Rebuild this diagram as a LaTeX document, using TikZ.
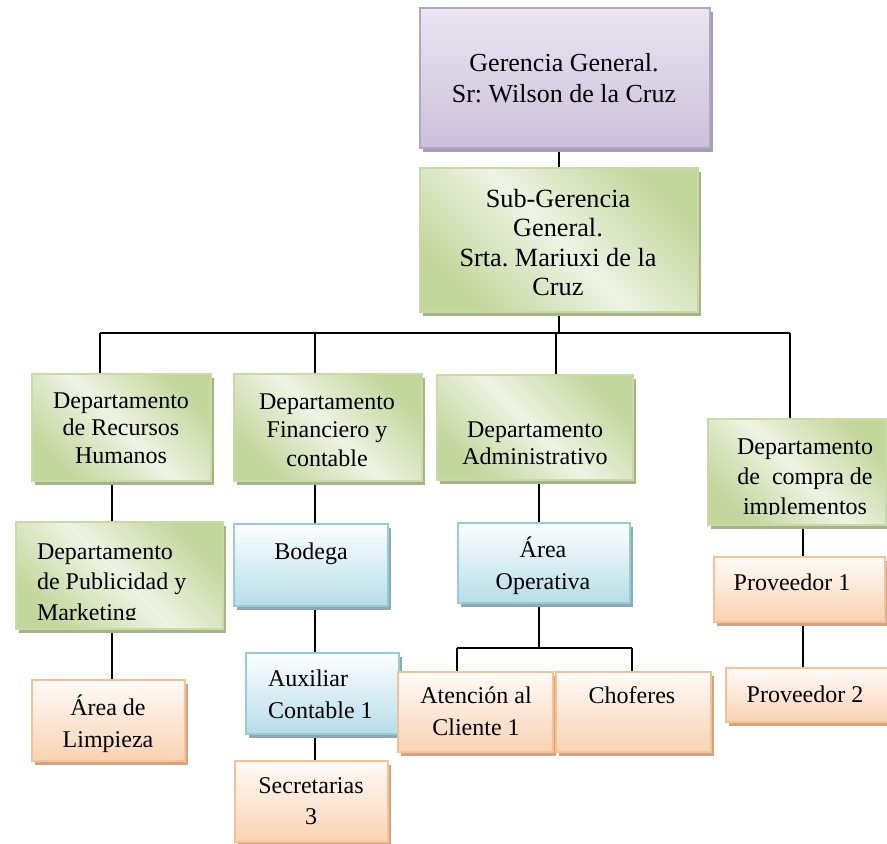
\documentclass[tikz,border=0pt]{standalone}
\usepackage{fontspec}
\setmainfont{Liberation Serif}
\usetikzlibrary{calc,backgrounds}
\frenchspacing
\definecolor{plight}{HTML}{EAE5F1}
\definecolor{pdark}{HTML}{CBC0DA}
\definecolor{pborder}{HTML}{B4A5C8}
\definecolor{pshadow}{HTML}{A69DB2}
\definecolor{glight}{HTML}{EEF3E3}
\definecolor{gdark}{HTML}{C3D69B}
\definecolor{gborder}{HTML}{C8DBA2}
\definecolor{gshadow}{HTML}{A6B38C}
\definecolor{blight}{HTML}{FDFEFF}
\definecolor{bdark}{HTML}{B6DDE8}
\definecolor{bborder}{HTML}{93CDDD}
\definecolor{bshadow}{HTML}{8FA9B1}
\definecolor{olight}{HTML}{FFFBF8}
\definecolor{odark}{HTML}{F9D2B2}
\definecolor{oborder}{HTML}{FAC090}
\definecolor{oshadow}{HTML}{CDA68A}
\newcommand{\fsz}[2]{\fontsize{#1}{#2}\selectfont}
\tikzset{
  every node/.style={inner sep=0pt,outer sep=0pt},
  conn/.style={draw=black,line width=1.3pt},
  pbox/.style={draw=pborder,line width=1.6pt,top color=plight,bottom color=pdark},
  gbox/.style={draw=gborder,line width=1.6pt,left color=gdark,right color=gdark,middle color=glight,shading angle=135},
  bbox/.style={draw=bborder,line width=1.6pt,top color=blight,bottom color=bdark},
  obox/.style={draw=oborder,line width=1.6pt,top color=olight,bottom color=odark},
  txt/.style={text=black,align=center},
  ltxt/.style={text=black,align=left,anchor=west},
}
% #1 name, #2 kind letter, #3 x1, #4 y1, #5 x2, #6 y2
\newcommand{\orgbox}[6]{%
  \fill[#2shadow] (#3+3,#4+4) rectangle (#5+3,#6+4);
  \node[#2box,minimum width={(#5-#3)*0.75pt},minimum height={(#6-#4)*0.75pt}] (#1) at ({(#3+#5)/2},{(#4+#6)/2}) {};
}
\begin{document}
\begin{tikzpicture}[x=0.75pt,y=-0.75pt]
\useasboundingbox (0,0) rectangle (887,843);

% boxes
\orgbox{ger}{p}{420}{8}{710}{148}
\orgbox{sub}{g}{420}{168}{698}{312}
\orgbox{rrh}{g}{32}{374}{211}{481}
\orgbox{fin}{g}{234}{374}{422}{481}
\orgbox{adm}{g}{437}{375}{633}{480}
\orgbox{com}{g}{708}{419}{886}{525}
\orgbox{pub}{g}{16}{522}{223}{629}
\orgbox{bod}{b}{234}{524}{388}{606}
\orgbox{aop}{b}{458}{523}{630}{603}
\orgbox{pv1}{o}{714}{557}{885}{622}
\orgbox{lim}{o}{32}{680}{185}{761}
\orgbox{aux}{b}{246}{653}{399}{734}
\orgbox{sec}{o}{235}{761}{388}{842}
\orgbox{ate}{o}{398}{672}{553}{752}
\orgbox{cho}{o}{556}{672}{711}{752}
\orgbox{pv2}{o}{726}{668}{892}{722}

% texts
\node[txt,font=\fsz{19.5}{23.25}] (gert) at (564,78) {Gerencia General.\\Sr: Wilson de la Cruz};
\node[txt,font=\fsz{19.7}{22}] (subt) at (558,242.5) {Sub-Gerencia\\General.\\Srta. Mariuxi de la\\Cruz};
\node[txt,font=\fsz{18}{20.6}] (rrht) at (121,428) {Departamento\\de Recursos\\Humanos};
\node[txt,font=\fsz{18}{21.2}] (fint) at (327,430) {Departamento\\Financiero y\\contable};
\node[txt,font=\fsz{18}{20.6}] (admt) at (535,443) {Departamento\\Administrativo};
\begin{scope}
  \clip (708,419) rectangle (886,514);
  \node[txt,font=\fsz{18}{22.5}] (comt) at (805,479.5) {Departamento\\de\ \ compra de\\implementos};
\end{scope}
\begin{scope}
  \clip (16,522) rectangle (223,619);
  \node[ltxt,font=\fsz{18}{23}] (pubt) at (37,584.5) {Departamento\\de Publicidad y\\Marketing};
\end{scope}
\node[txt,font=\fsz{18}{22}] (bodt) at (311,554) {Bodega};
\node[txt,font=\fsz{18}{24}] (aopt) at (543,565.5) {Área\\Operativa};
\node[txt,font=\fsz{18}{22}] (pv1t) at (792,582.5) {Proveedor 1};
\node[txt,font=\fsz{18}{22}] (pv2t) at (805,694) {Proveedor 2};
\node[txt,font=\fsz{18}{24}] (limt) at (108,724) {Área de\\Limpieza};
\node[ltxt,font=\fsz{18}{24}] (auxt) at (268,694) {Auxiliar\\Contable 1};
\node[txt,font=\fsz{18}{23.25}] (sect) at (311,801) {Secretarias\\3};
\node[txt,font=\fsz{18}{24}] (atet) at (476,711.5) {Atención al\\Cliente 1};
\node[txt,font=\fsz{18}{22}] (chot) at (632,695.5) {Choferes};

% connectors
\coordinate (b1) at (100,333);
\coordinate (b2) at (315,333);
\coordinate (b3) at (556,333);
\coordinate (b4) at (790,333);
\coordinate (xa) at (112,0);
\coordinate (xb) at (315,0);
\coordinate (xc) at (539,0);
\coordinate (xd) at (803,0);
\coordinate (c0) at (539,648);
\coordinate (c1) at (457,648);
\coordinate (c2) at (632,648);
\begin{pgfonlayer}{background}
\fill[white] (0,0) rectangle (887,843);
\draw[conn] (ger.south -| sub.south) -- (sub.north);
\draw[conn] (sub.south) -- (sub.south |- b1);
\draw[conn] (b1) -- (b4);
\draw[conn] (b1) -- (b1 |- rrh.north);
\draw[conn] (b2) -- (b2 |- fin.north);
\draw[conn] (b3) -- (b3 |- adm.north);
\draw[conn] (b4) -- (b4 |- com.north);
\draw[conn] (rrh.south -| xa) -- (pub.north -| xa);
\draw[conn] (pub.south -| xa) -- (lim.north -| xa);
\draw[conn] (fin.south -| xb) -- (bod.north -| xb);
\draw[conn] (bod.south -| xb) -- (aux.north -| xb);
\draw[conn] (aux.south -| xb) -- (sec.north -| xb);
\draw[conn] (adm.south -| xc) -- (aop.north -| xc);
\draw[conn] (aop.south -| xc) -- (c0);
\draw[conn] (c1) -- (c2);
\draw[conn] (c1) -- (c1 |- ate.north);
\draw[conn] (c2) -- (c2 |- cho.north);
\draw[conn] (com.south -| xd) -- (pv1.north -| xd);
\draw[conn] (pv1.south -| xd) -- (pv2.north -| xd);
\end{pgfonlayer}
\end{tikzpicture}
\end{document}
